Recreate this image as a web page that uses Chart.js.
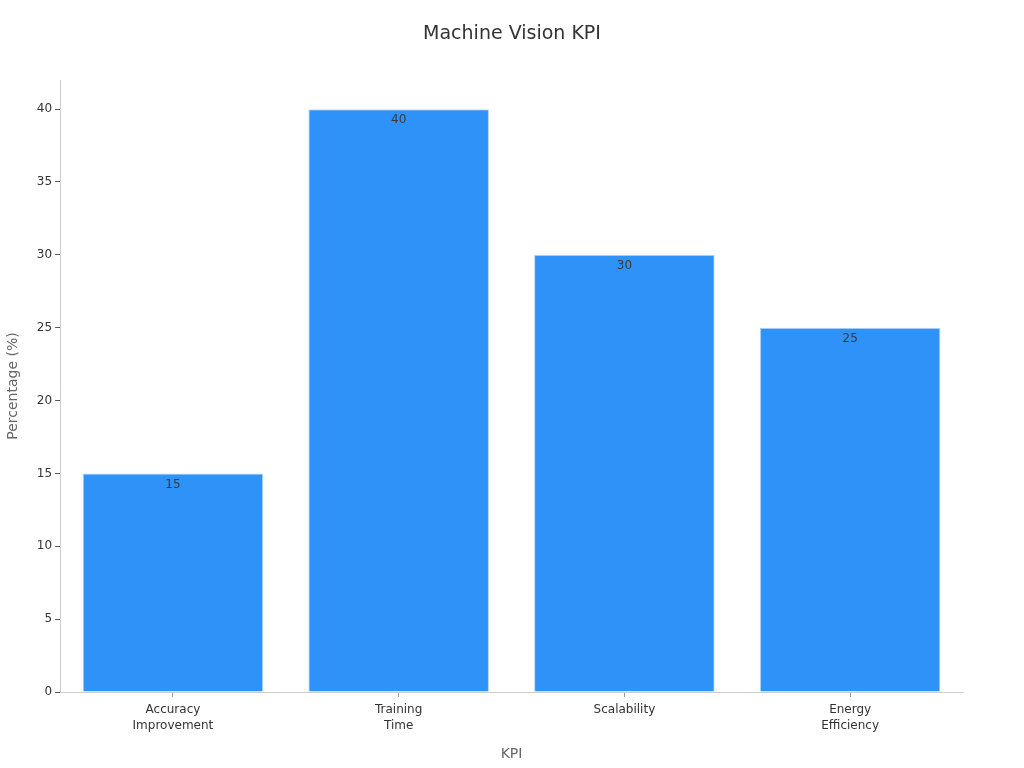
<!DOCTYPE html>
<html>
<head>
<meta charset="utf-8">
<script src="https://cdn.jsdelivr.net/npm/chart.js@4"></script>
<style>
  html, body { margin: 0; padding: 0; background: #fff; }
  #wrap { width: 1024px; height: 768px; }
</style>
</head>
<body>
<div id="wrap"><canvas id="myChart"></canvas></div>
<script>
const kpiLabels = [["Accuracy", "Improvement"], ["Training", "Time"], "Scalability", ["Energy", "Efficiency"]];
const kpiValues = [15, 40, 30, 25];
const yTicksMax = 40;
const chartTitle = 'Machine Vision KPI';

Chart.defaults.font.family = "'DejaVu Sans', sans-serif";
Chart.defaults.color = '#333';

// escribe el valor dentro de la barra, arriba
const barLabels = {
  id: 'barLabels',
  afterDatasetsDraw(chart) {
    const ctx = chart.ctx;
    const meta = chart.getDatasetMeta(0);
    ctx.save();
    ctx.font = "12px 'DejaVu Sans'";
    ctx.fillStyle = '#3a3a3a';
    ctx.textAlign = 'center';
    ctx.textBaseline = 'middle';
    meta.data.forEach((bar, i) => {
      ctx.fillText(kpiValues[i], bar.x, bar.y + 11);
    });
    ctx.restore();
  }
};

// titulo centrado en todo el canvas
const titleFull = {
  id: 'titleFull',
  afterDraw(chart) {
    const ctx = chart.ctx;
    ctx.save();
    ctx.font = "19px 'DejaVu Sans'";
    ctx.fillStyle = '#333';
    ctx.textAlign = 'center';
    ctx.textBaseline = 'middle';
    ctx.fillText(chartTitle, chart.width / 2, 34);
    ctx.restore();
  }
};

const ctx = document.querySelector('#myChart').getContext('2d');
const myChart = new Chart(ctx, {
  type: 'bar',
  data: {
    labels: kpiLabels,
    datasets: [{
      data: kpiValues,
      backgroundColor: '#2f92f8',
      borderColor: '#b5d6fb',
      borderWidth: 1,
      categoryPercentage: 1,
      barPercentage: 0.8
    }]
  },
  options: {
    responsive: true,
    maintainAspectRatio: false,
    animation: false,
    layout: { padding: { left: 5, right: 61, top: 80, bottom: 1 } },
    plugins: {
      legend: { display: false },
      tooltip: { enabled: false },
      title: { display: false }
    },
    scales: {
      x: {
        border: { color: '#ccc' },
        grid: { drawOnChartArea: false, offset: false, tickLength: 5, tickColor: '#999' },
        ticks: { color: '#333', font: { size: 12, lineHeight: 1.3 }, padding: 5 },
        title: { display: true, text: 'KPI', color: '#666', font: { size: 14 }, padding: { top: 8 } }
      },
      y: {
        min: 0,
        max: 42,
        border: { color: '#ccc' },
        grid: { drawOnChartArea: false, tickLength: 5, tickColor: '#555' },
        ticks: { stepSize: 5, color: '#333', font: { size: 12 }, padding: 3 },
        afterBuildTicks(scale) {
          scale.ticks = scale.ticks.filter(t => t.value <= yTicksMax);
        },
        title: { display: true, text: 'Percentage (%)', color: '#666', font: { size: 14 }, padding: { top: 0, bottom: 12 } }
      }
    }
  },
  plugins: [barLabels, titleFull]
});
</script>
</body>
</html>
